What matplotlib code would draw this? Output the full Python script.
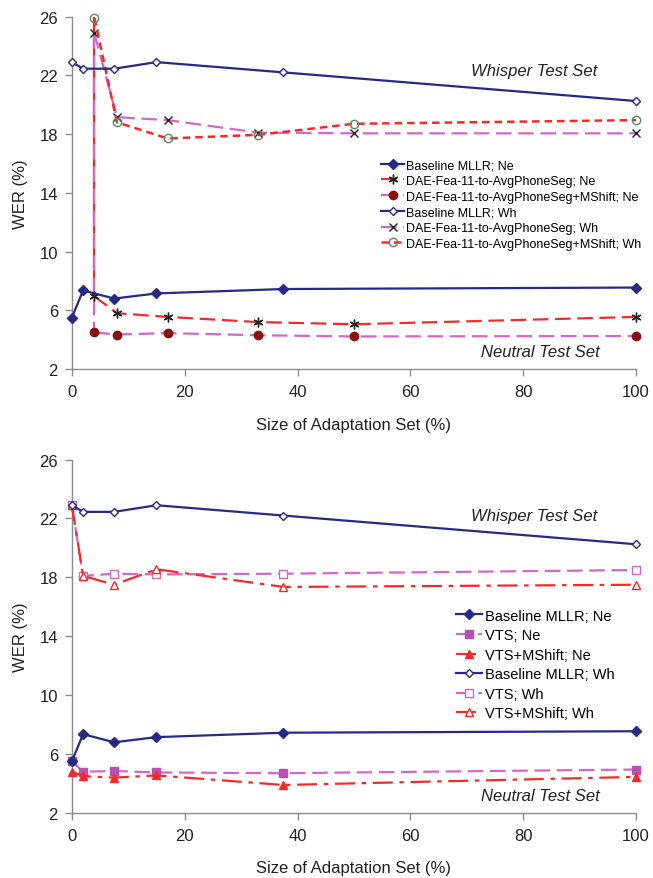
import matplotlib
matplotlib.use('Agg')
import matplotlib.pyplot as plt

plt.rcParams['font.family'] = ['Liberation Sans', 'DejaVu Sans']

# x values (size of adaptation set, %)
x_base = [0, 2, 7.5, 15, 37.5, 100]
x_dae = [4, 8, 17, 33, 50, 100]

base_ne = [5.5, 7.35, 6.8, 7.15, 7.45, 7.55]
base_wh = [22.9, 22.45, 22.45, 22.9, 22.2, 20.25]

dae_ne = [6.95, 5.8, 5.55, 5.2, 5.05, 5.55]
dae_ms_ne = [4.5, 4.35, 4.45, 4.3, 4.22, 4.25]
dae_wh = [24.85, 19.15, 18.95, 18.1, 18.05, 18.05]
dae_ms_wh = [25.9, 18.8, 17.7, 17.95, 18.7, 18.95]

vts_ne = [5.5, 4.8, 4.85, 4.75, 4.7, 4.95]
vts_ms_ne = [4.8, 4.5, 4.4, 4.55, 3.9, 4.45]
vts_wh = [22.9, 18.1, 18.25, 18.2, 18.25, 18.5]
vts_ms_wh = [22.9, 18.1, 17.5, 18.55, 17.35, 17.5]

yticks = [2, 6, 10, 14, 18, 22, 26]
xticks = [0, 20, 40, 60, 80, 100]

NAVY = '#262a86'
MAG = '#d067c9'
RED = '#f42a2a'
DRED = '#8a1010'
GRAY = '#8c8c8c'


def style_axes(ax, xpad):
    ax.set_xlim(0, 100)
    ax.set_ylim(2, 26)
    ax.set_xticks(xticks)
    ax.set_yticks(yticks)
    for s in ['top', 'right']:
        ax.spines[s].set_visible(False)
    for s in ['left', 'bottom']:
        ax.spines[s].set_color(GRAY)
        ax.spines[s].set_linewidth(1.0)
    ax.tick_params(colors=GRAY, labelcolor='#222222', labelsize=12, length=5, width=1.0, pad=5)
    ax.tick_params(axis='x', pad=6)
    ax.set_ylabel('WER (%)', fontsize=12, color='#222222', labelpad=8)
    ax.set_xlabel('Size of Adaptation Set (%)', fontsize=12, color='#222222', labelpad=xpad)


def baseline(ax):
    ax.plot(x_base, base_ne, '-', color=NAVY, lw=1.6, marker='D', ms=5, mfc=NAVY, mec=NAVY,
            clip_on=False, zorder=4, label='Baseline MLLR; Ne')


fig = plt.figure(figsize=(6.53, 8.79), dpi=100)
ax1 = fig.add_axes([0.110, 0.579, 0.864, 0.401])
ax2 = fig.add_axes([0.110, 0.074, 0.864, 0.402])

# ---- top panel
# drop lines joining the first Wh and Ne points of the DAE series
ax1.plot([x_dae[0], x_dae[0]], [dae_ms_wh[0], dae_ne[0]], '-', color=RED, lw=1.6, zorder=2)
ax1.plot([x_dae[0], x_dae[0]], [dae_wh[0], dae_ms_ne[0]], '-', color=MAG, lw=1.6, dashes=(7, 3), zorder=2)

baseline(ax1)
ax1.plot(x_dae, dae_ne, color=RED, lw=1.6, dashes=(7, 3), marker=(6, 2, 0), ms=7, mec='#222222',
         mew=1.0, clip_on=False, zorder=3, label='DAE-Fea-11-to-AvgPhoneSeg; Ne')
ax1.plot(x_dae, dae_ms_ne, color=MAG, lw=1.6, dashes=(7, 3), marker='o', ms=6, mfc=DRED, mec=DRED,
         clip_on=False, zorder=3, label='DAE-Fea-11-to-AvgPhoneSeg+MShift; Ne')
ax1.plot(x_base, base_wh, '-', color=NAVY, lw=1.6, marker='D', ms=4.5, mfc='white', mec=NAVY,
         clip_on=False, zorder=4, label='Baseline MLLR; Wh')
ax1.plot(x_dae, dae_wh, color=MAG, lw=1.6, dashes=(7, 3), marker='x', ms=6, mec='#222222',
         mew=1.0, clip_on=False, zorder=3, label='DAE-Fea-11-to-AvgPhoneSeg; Wh')
ax1.plot(x_dae, dae_ms_wh, color=RED, lw=1.8, dashes=(3, 2), marker='o', ms=6, mfc='none',
         mec='#5f8a5f', mew=1.0, clip_on=False, zorder=3, label='DAE-Fea-11-to-AvgPhoneSeg+MShift; Wh')
style_axes(ax1, 13)
ax1.legend(loc='upper left', bbox_to_anchor=(0.54, 0.61), frameon=False, fontsize=9,
           handlelength=1.8, handletextpad=0.2, labelspacing=0.3, borderaxespad=0)
ax1.text(82, 22.3, 'Whisper Test Set', style='italic', fontsize=12, ha='center', va='center', color='#222222')
ax1.text(83, 3.2, 'Neutral Test Set', style='italic', fontsize=12, ha='center', va='center', color='#222222')

# ---- bottom panel
baseline(ax2)
ax2.plot(x_base, vts_ne, color=MAG, lw=1.6, dashes=(7, 3), marker='s', ms=6, mfc='#b850b0', mec='#b850b0',
         clip_on=False, zorder=3, label='VTS; Ne')
ax2.plot(x_base, vts_ms_ne, color=RED, lw=1.6, dashes=(9, 3, 2, 3), marker='^', ms=6, mfc=RED, mec=RED,
         clip_on=False, zorder=3, label='VTS+MShift; Ne')
ax2.plot(x_base, base_wh, '-', color=NAVY, lw=1.6, marker='D', ms=4.5, mfc='white', mec=NAVY,
         clip_on=False, zorder=4, label='Baseline MLLR; Wh')
ax2.plot(x_base, vts_wh, color=MAG, lw=1.6, dashes=(7, 3), marker='s', ms=6, mfc='white', mec=MAG,
         clip_on=False, zorder=3, label='VTS; Wh')
ax2.plot(x_base, vts_ms_wh, color=RED, lw=1.6, dashes=(9, 3, 2, 3), marker='^', ms=6, mfc='white', mec=RED,
         clip_on=False, zorder=3, label='VTS+MShift; Wh')
style_axes(ax2, 12)
ax2.legend(loc='upper left', bbox_to_anchor=(0.67, 0.595), frameon=False, fontsize=10.5,
           handlelength=1.8, handletextpad=0.2, labelspacing=0.38, borderaxespad=0)
ax2.text(82, 22.2, 'Whisper Test Set', style='italic', fontsize=12, ha='center', va='center', color='#222222')
ax2.text(83, 3.2, 'Neutral Test Set', style='italic', fontsize=12, ha='center', va='center', color='#222222')

fig.savefig('out.png', dpi=100)
